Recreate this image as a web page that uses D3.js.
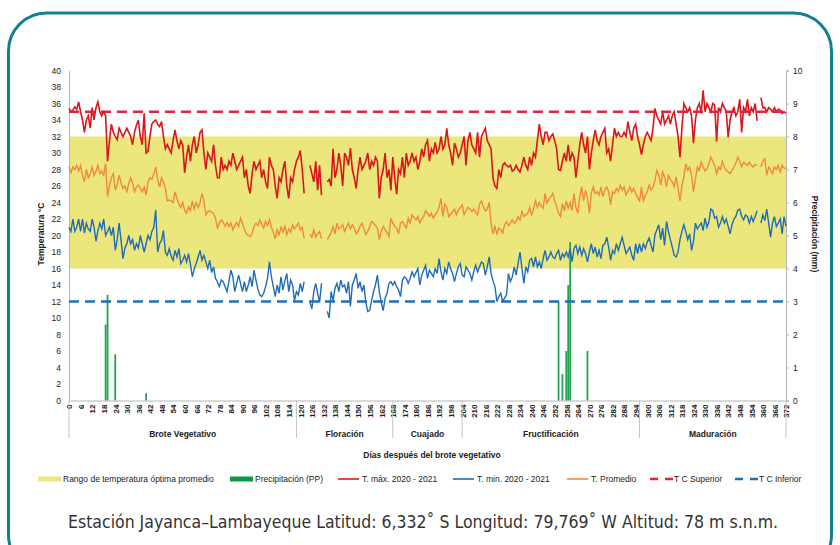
<!DOCTYPE html>
<html lang="es">
<head>
<meta charset="utf-8">
<script src="https://d3js.org/d3.v7.min.js"></script>
<style>
  body { margin: 0; background: #fff; }
  svg text { font-family: "Liberation Sans", Arial, sans-serif; fill: #222; }
</style>
</head>
<body>
<div id="grafico"></div>
<script>
// ---- datos ----
const dias = d3.range(0, 373);   // días después del brote vegetativo

const tMax = [
  35.4, 35.0, 35.2, 35.6, 35.3, 36.2, 35.0, 34.0, 32.5, 34.0,
  34.5, 33.0, 35.5, 34.0, 35.5, 36.2, 35.0, 34.5, 35.0, 34.5,
  29.0, 31.5, 33.5, 32.5, 32.0, 31.6, 33.0, 32.5, 32.0, 32.5,
  33.0, 32.5, 32.0, 31.0, 32.5, 33.4, 34.0, 32.0, 31.0, 34.8,
  30.0, 30.2, 32.0, 33.5, 33.8, 34.0, 33.5, 33.2, 33.8, 32.0,
  30.5, 31.0, 30.5, 30.0, 31.5, 32.8, 31.5, 30.5, 31.5, 31.0,
  27.6, 29.5, 31.0, 29.0, 31.0, 32.0, 30.0, 31.0, 32.5, 32.8,
  30.0, 28.0, 30.0, 29.5, 29.0, 31.0, 28.5, 27.0, 27.0, 29.5,
  28.0, 28.5, 28.0, 29.0, 28.5, 30.0, 29.0, 28.0, 28.5, 29.0,
  29.5, 27.0, 28.0, 26.0, 25.1, 27.5, 29.0, 28.0, 28.5, 29.0,
  27.0, 28.0, 26.5, 25.7, 29.5, 28.5, 28.0, 26.0, 24.5, 27.0,
  26.5, 28.0, 29.0, 26.0, 24.5, 27.0, 26.5, 28.0, 29.0, 29.5,
  30.3, 28.0, 25.1, null, null, 28.5, 27.5, 26.5, 29.0, 25.5,
  28.5, 24.9, null, null, 26.5, 26.8, 26.0, 30.5, 27.0, 28.0,
  30.0, 28.5, 26.0, 30.0, 29.5, 28.5, 30.6, 28.0, 27.0, 25.7,
  28.0, 29.5, 28.0, 28.5, 29.0, 30.0, 28.0, 29.0, 28.5, 29.5,
  29.0, 24.5, 27.0, 28.0, 30.0, 27.0, 28.0, 25.5, 29.5, 27.0,
  25.0, 28.0, 27.5, 29.5, 27.0, 30.0, 28.5, 29.0, 30.0, 29.0,
  29.5, 28.0, 29.0, 30.5, 29.5, 31.0, 31.5, 29.0, 30.5, 30.0,
  31.3, 30.0, 30.5, 32.0, 30.5, 31.0, 33.0, 31.0, 30.0, 28.5,
  31.2, 30.5, 29.5, 30.0, 31.0, 32.0, 28.5, 31.5, 32.5, 31.0,
  30.5, 30.0, 32.5, 29.5, 32.0, 32.5, 33.0, 31.5, 31.0, 30.5,
  26.9, 26.0, 25.7, 28.0, 27.0, 28.5, 28.8, 28.5, 28.3, 28.5,
  27.8, 28.0, 28.5, 28.0, 27.7, 28.5, 29.5, 28.5, 28.0, 29.5,
  28.5, 30.0, 29.5, 31.5, 33.5, 32.0, 31.0, 32.5, 32.5, 31.5,
  32.0, 32.3, 31.5, 30.5, 28.0, 27.9, 29.0, 30.0, 29.0, 31.0,
  29.0, 30.0, 29.5, 27.0, 29.0, 31.0, 32.5, 31.0, 30.0, 32.0,
  28.0, 30.0, 31.5, 32.8, 31.5, 31.0, 32.0, 32.5, 33.0, 30.0,
  30.5, 29.0, 31.0, 33.0, 32.0, 32.5, 32.0, 32.0, 32.5, 32.0,
  33.8, 32.5, 31.5, 33.0, 33.5, 32.0, 31.0, 29.8, 31.0, 32.0,
  32.5, 32.0, 31.5, 33.0, 35.4, 34.5, 34.0, 33.5, 35.0, 33.5,
  34.0, 34.5, 33.5, 34.5, 35.0, 33.5, 32.0, 29.5, 33.0, 36.0,
  35.5, 35.0, 35.5, 34.5, 31.2, 34.0, 35.5, 36.0, 34.8, 37.6,
  35.0, 36.0, 35.5, 35.0, 36.0, 35.8, 31.4, 35.5, 35.0, 36.0,
  35.5, 35.0, 31.9, 34.0, 35.0, 35.5, 34.5, 35.0, 36.5, 32.5,
  35.5, 35.0, 36.5, 34.5, 35.5, 35.0, 36.0, 33.9, null, 36.7,
  35.5, 35.5, 35.0, 35.5, 35.3, 35.0, 35.5, 35.0, 35.3, 35.2,
  34.8, 35.0, 34.8
];

const tMin = [
  21.0, 20.5, 22.0, 20.5, 21.0, 22.0, 20.5, 22.0, 20.3, 21.5,
  20.8, 20.5, 22.0, 21.0, 19.3, 20.6, 21.5, 20.8, 22.0, 20.0,
  20.5, 21.0, 20.0, 21.0, 18.2, 19.5, 21.5, 19.4, 17.2, 18.5,
  19.0, 20.0, 19.0, 19.5, 18.2, 19.0, 18.5, 20.0, 19.0, 18.0,
  19.0, 20.0, 19.5, 20.5, 21.0, 23.1, 18.0, 19.0, 19.4, 20.6,
  18.0, 17.6, 18.4, 17.5, 17.0, 18.2, 17.4, 18.4, 16.6, 17.0,
  17.6, 16.8, 17.8, 16.5, 15.0, 16.0, 16.6, 17.4, 18.2, 17.0,
  17.6, 16.8, 16.0, 17.0, 15.5, 16.2, 14.8, 14.4, 13.8, 14.6,
  14.4, 13.8, 13.2, 14.5, 15.8, 15.0, 13.2, 14.2, 15.2, 14.2,
  13.2, 14.4, 13.2, 14.0, 15.0, 13.8, 15.8, 14.6, 13.5, 12.8,
  12.6, 13.0, 13.8, 14.8, 16.8, 15.0, 13.8, 12.6, 14.0, 13.0,
  15.0, 13.4, 14.5, 15.4, 13.2, 14.6, 14.0, 12.1, 13.2, 12.8,
  14.2, 13.2, 14.4, null, null, 11.9, 11.1, 13.2, 14.2, 13.0,
  11.9, 14.2, null, null, 10.8, 10.0, 13.2, 12.1, 13.6, 14.2,
  13.2, 14.6, 13.8, 14.0, 13.0, 14.4, 11.4, 14.0, 14.6, 15.4,
  13.6, 14.4, 13.2, 14.0, 11.9, 10.8, 10.9, 12.1, 13.2, 14.0,
  15.2, 13.2, 11.9, 10.9, 12.4, 13.0, 14.2, 14.4, 14.0, 14.4,
  13.8, 13.4, 12.6, 14.6, 15.0, 14.8, 14.2, 14.8, 15.6, 15.0,
  15.5, 16.0, 14.0, 15.2, 15.8, 16.4, 14.8, 15.8, 15.4, 15.0,
  16.0, 15.4, 17.2, 15.6, 14.6, 16.0, 15.4, 16.8, 16.0, 15.4,
  14.4, 15.4, 16.2, 16.6, 15.2, 15.0, 16.2, 15.8, 15.4, 14.6,
  15.6, 16.4, 15.6, 16.2, 16.8, 16.6, 15.2, 16.2, 17.4, 15.4,
  14.5, 13.8, 12.0, 12.6, 13.0, 12.0, 12.4, 12.8, 15.4, 14.4,
  15.0, 16.2, 15.2, 16.6, 18.0, 16.0, 14.2, 16.2, 15.6, 17.0,
  17.2, 16.2, 17.4, 16.2, 16.8, 16.0, 17.2, 18.2, 17.0, 17.4,
  18.0, 17.4, 17.2, 17.8, 18.2, 17.0, 17.8, 17.4, 18.0, 17.4,
  18.4, 16.8, 18.4, 18.8, 17.8, 18.6, 17.6, 18.4, 17.8, 16.8,
  18.0, 19.0, 17.8, 18.6, 17.4, 18.2, 17.2, 18.8, 19.0, 19.8,
  18.6, 17.0, 18.2, 17.8, 19.0, 18.2, 19.0, 19.8, 18.8, 17.8,
  18.2, 18.6, 17.6, 17.0, 19.0, 17.8, 19.0, 18.0, 19.0, 18.4,
  19.2, 19.7, 18.8, 18.0, 20.1, 20.7, 21.3, 19.5, 20.9, 18.8,
  21.7, 20.5, 19.5, 18.6, 17.6, 17.4, 18.0, 19.5, 20.5, 21.3,
  20.5, 19.5, 20.2, 18.2, 19.3, 21.5, 20.8, 21.2, 21.5, 20.6,
  22.1, 21.0, 21.7, 23.2, 23.0, 22.1, 22.3, 21.0, 21.5, 22.3,
  21.5, 22.0, 21.1, 20.2, 21.3, 22.0, 22.3, 23.1, 23.2, 22.3,
  21.9, 22.5, 22.3, 21.5, 22.3, 21.7, 22.3, 23.0, null, 21.5,
  22.5, 21.8, 23.2, 21.5, 19.8, 21.5, 22.3, 21.1, 21.5, 22.0,
  20.2, 22.3, 21.1
];

const tProm = [
  28.3, 27.6, 28.3, 28.0, 28.5, 27.8, 28.5, 27.3, 26.5, 28.0,
  27.0, 27.5, 28.3, 27.3, 27.8, 28.5, 27.5, 27.8, 27.3, 28.7,
  24.7, 26.0, 27.0, 27.5, 25.5, 26.2, 27.3, 26.4, 25.7, 26.0,
  25.3, 26.3, 27.0, 26.3, 25.3, 25.9, 26.1, 25.7, 25.3, 25.9,
  24.9, 26.5, 27.0, 26.8, 27.5, 28.3, 26.8, 25.9, 27.0, 26.5,
  25.7, 24.2, 24.3, 24.2, 24.0, 25.3, 24.5, 23.8, 23.4, 24.0,
  23.0, 22.7, 23.5, 23.0, 24.2, 23.2, 24.0, 23.4, 24.0, 25.1,
  24.2, 22.5, 22.9, 23.0, 22.8, 22.7, 22.1, 20.9, 21.5, 21.9,
  21.6, 21.1, 21.6, 21.1, 21.5, 20.7, 21.2, 21.6, 21.1, 22.1,
  21.5, 20.8, 20.2, 20.0, 19.9, 20.2, 21.1, 21.5, 21.2, 21.9,
  21.4, 20.9, 21.7, 21.2, 21.9, 21.0, 20.4, 19.6, 20.7, 20.1,
  21.0, 20.4, 21.1, 20.1, 20.8, 20.4, 21.3, 20.8, 21.1, 21.5,
  20.7, 21.0, 19.6, null, null, 20.2, 19.8, 20.7, 19.8, 20.2,
  20.5, 19.6, null, null, 19.5, 19.9, 20.4, 21.1, 20.2, 21.5,
  20.8, 21.0, 21.3, 20.5, 21.0, 21.5, 20.8, 21.3, 20.9, 20.2,
  20.5, 21.1, 21.5, 20.8, 20.1, 20.5, 21.1, 21.7, 21.5, 21.2,
  20.9, 19.5, 20.5, 21.1, 20.7, 20.4, 19.9, 22.1, 21.5, 21.1,
  20.9, 20.2, 21.5, 21.7, 21.3, 20.9, 22.1, 21.5, 22.5, 22.2,
  21.9, 22.3, 21.5, 22.0, 22.3, 23.0, 22.7, 22.3, 22.7, 22.1,
  22.5, 22.9, 23.4, 24.5, 22.3, 23.8, 23.4, 22.3, 22.6, 22.9,
  23.2, 22.5, 23.1, 23.4, 23.7, 22.5, 23.0, 23.4, 23.2, 22.9,
  23.2, 22.8, 22.5, 23.8, 24.2, 23.5, 23.0, 23.2, 24.0, 21.5,
  20.2, 21.1, 20.2, 20.9, 20.7, 20.3, 21.3, 21.7, 21.2, 21.5,
  21.9, 21.5, 21.7, 22.3, 21.9, 22.9, 22.3, 22.5, 22.7, 23.4,
  22.5, 23.2, 24.2, 23.4, 24.0, 23.6, 23.3, 25.1, 23.9, 24.4,
  24.7, 25.1, 24.2, 23.5, 22.7, 22.3, 23.9, 23.0, 24.2, 23.3,
  24.0, 23.0, 25.1, 23.4, 22.7, 24.7, 25.9, 24.2, 25.5, 24.5,
  22.7, 25.1, 25.9, 25.1, 25.3, 24.9, 25.9, 24.7, 25.5, 25.9,
  25.3, 23.7, 25.3, 25.1, 25.7, 25.3, 26.1, 25.5, 25.9, 24.9,
  25.4, 25.9, 25.3, 25.7, 25.1, 24.6, 24.2, 25.9, 24.2, 24.8,
  25.3, 26.1, 25.5, 25.8, 26.7, 27.9, 27.3, 26.1, 27.7, 27.1,
  25.9, 27.3, 26.8, 26.5, 25.9, 27.1, 25.7, 24.2, 26.0, 27.1,
  28.7, 27.9, 28.3, 27.3, 25.3, 26.8, 28.3, 27.9, 28.9, 28.3,
  27.8, 28.1, 28.7, 29.5, 29.0, 28.5, 27.5, 28.3, 28.0, 29.0,
  28.3, 27.9, 27.7, 27.5, 27.9, 28.3, 28.8, 29.5, 29.0, 28.3,
  28.9, 28.7, 28.5, 28.9, 28.5, 28.3, 28.6, 28.5, null, 28.3,
  29.0, 29.3, 27.3, 28.3, 27.9, 27.5, 28.3, 28.0, 28.5, 27.7,
  28.5, 28.2, 28.1
];

// precipitación (mm), solo los días con lluvia
const diasLluvia = [19, 20, 24, 40, 254, 256, 258, 259, 260, 269];
const precipitacion = [2.3, 3.2, 1.4, 0.22, 3.0, 0.8, 1.5, 3.5, 4.8, 1.5];

const rangoOptimo = [16, 32];
const tcSuperior = 35;
const tcInferior = 12;

const etapas = ["Brote Vegetativo", "Floración", "Cuajado", "Fructificación", "Maduración"];
const limitesEtapas = [0, 118, 168, 204, 296, 372];
const ticksDias = d3.range(0, 373, 6);
const ticksTemp = d3.range(0, 41, 2);
const ticksPP = d3.range(0, 11, 1);

// ---- dibujo ----
const W = 840, H = 545;
const svg = d3.select("#grafico").append("svg").attr("width", W).attr("height", H);

// marco redondeado
svg.append("rect").attr("x", 8.5).attr("y", 13).attr("width", 823).attr("height", 560)
  .attr("rx", 38).attr("fill", "none").attr("stroke", "#14808f").attr("stroke-width", 3);

const x = d3.scaleLinear().domain([0, 372]).range([69, 786]);
const yT = d3.scaleLinear().domain([0, 40]).range([400.5, 70.5]);
const yP = d3.scaleLinear().domain([0, 10]).range([400.5, 70.5]);

// banda de temperatura óptima
svg.append("rect")
  .attr("x", x(0)).attr("width", x(372) - x(0))
  .attr("y", yT(rangoOptimo[1])).attr("height", yT(rangoOptimo[0]) - yT(rangoOptimo[1]))
  .attr("fill", "#ece77c");

// barras de precipitación
svg.selectAll(".pp").data(diasLluvia).join("rect")
  .attr("class", "pp")
  .attr("x", d => x(d) - 0.9).attr("width", 1.8)
  .attr("y", (d, i) => yP(precipitacion[i]))
  .attr("height", (d, i) => yP(0) - yP(precipitacion[i]))
  .attr("fill", "#22a350");

// ejes
const ejeIzq = svg.append("g").attr("transform", `translate(${x(0)},0)`)
  .call(d3.axisLeft(yT).tickValues(ticksTemp).tickSize(0).tickPadding(8));
ejeIzq.select(".domain").attr("stroke", "#b5b5b5");
ejeIzq.selectAll("text").style("font-size", "8.5px");

const ejeDer = svg.append("g").attr("transform", `translate(${x(372)},0)`)
  .call(d3.axisRight(yP).tickValues(ticksPP).tickSize(3).tickPadding(4));
ejeDer.select(".domain").attr("stroke", "#b5b5b5");
ejeDer.selectAll("line").attr("stroke", "#b5b5b5");
ejeDer.selectAll("text").style("font-size", "8.5px");

const ejeX = svg.append("g").attr("transform", `translate(0,${yT(0)})`)
  .call(d3.axisBottom(x).tickValues(ticksDias).tickSize(0));
ejeX.select(".domain").attr("stroke", "#b5b5b5");
ejeX.selectAll("text")
  .attr("transform", "rotate(-90)")
  .attr("x", -4).attr("y", 0).attr("dy", "0.35em")
  .style("text-anchor", "end")
  .style("font-size", "8px").style("font-weight", "bold");

// separadores y nombres de etapas
svg.selectAll(".sep").data(limitesEtapas).join("line")
  .attr("class", "sep")
  .attr("x1", d => x(d)).attr("x2", d => x(d))
  .attr("y1", yT(0)).attr("y2", 438)
  .attr("stroke", "#c4c4c4").attr("stroke-width", 1);

svg.selectAll(".etapa").data(etapas).join("text")
  .attr("class", "etapa")
  .attr("x", (d, i) => x((limitesEtapas[i] + limitesEtapas[i + 1]) / 2))
  .attr("y", 437)
  .attr("text-anchor", "middle")
  .style("font-size", "8.5px").style("font-weight", "bold")
  .text(d => d);

svg.append("text").attr("x", 432).attr("y", 458).attr("text-anchor", "middle")
  .style("font-size", "8.5px").style("font-weight", "bold")
  .text("Días después del brote vegetativo");

svg.append("text").attr("transform", "translate(44,234) rotate(-90)")
  .attr("text-anchor", "middle").style("font-size", "8.5px").style("font-weight", "bold")
  .text("Temperatura °C");

svg.append("text").attr("transform", "translate(812,234) rotate(90)")
  .attr("text-anchor", "middle").style("font-size", "8.5px").style("font-weight", "bold")
  .text("Precipitación (mm)");

// líneas de temperatura
const linea = serie => d3.line()
  .defined(d => serie[d] != null)
  .x(d => x(d)).y(d => yT(serie[d]));

svg.append("path").datum(dias).attr("d", linea(tMax))
  .attr("fill", "none").attr("stroke", "#d8171c").attr("stroke-width", 1.6);
svg.append("path").datum(dias).attr("d", linea(tMin))
  .attr("fill", "none").attr("stroke", "#1f6db8").attr("stroke-width", 1.4);
svg.append("path").datum(dias).attr("d", linea(tProm))
  .attr("fill", "none").attr("stroke", "#f08a3a").attr("stroke-width", 1.4);

// umbrales críticos
svg.append("line").attr("x1", x(0)).attr("x2", x(372))
  .attr("y1", yT(tcSuperior)).attr("y2", yT(tcSuperior))
  .attr("stroke", "#e8203a").attr("stroke-width", 2.5).attr("stroke-dasharray", "10,6");
svg.append("line").attr("x1", x(0)).attr("x2", x(372))
  .attr("y1", yT(tcInferior)).attr("y2", yT(tcInferior))
  .attr("stroke", "#1d6fbd").attr("stroke-width", 2.5).attr("stroke-dasharray", "10,6");

// leyenda
const leyenda = [
  { x: 38, txt: "Rango de temperatura óptima promedio", tipo: "caja", color: "#ece77c" },
  { x: 230, txt: "Precipitación (PP)", tipo: "caja", color: "#0f9a45" },
  { x: 338, txt: "T. máx. 2020 - 2021", tipo: "linea", color: "#d8171c" },
  { x: 453, txt: "T. min. 2020 - 2021", tipo: "linea", color: "#1f6db8" },
  { x: 567, txt: "T. Promedio", tipo: "linea", color: "#f08a3a" },
  { x: 650, txt: "T C Superior", tipo: "guion", color: "#e8203a" },
  { x: 735, txt: "T C Inferior", tipo: "guion", color: "#1d6fbd" }
];
const yLey = 479;
const itemLey = svg.selectAll(".ley").data(leyenda).join("g").attr("class", "ley");
itemLey.filter(d => d.tipo === "caja").append("rect")
  .attr("x", d => d.x).attr("y", yLey - 2.5).attr("width", 23).attr("height", 5)
  .attr("fill", d => d.color);
itemLey.filter(d => d.tipo === "linea").append("line")
  .attr("x1", d => d.x).attr("x2", d => d.x + 21).attr("y1", yLey).attr("y2", yLey)
  .attr("stroke", d => d.color).attr("stroke-width", 1.6);
itemLey.filter(d => d.tipo === "guion").append("line")
  .attr("x1", d => d.x).attr("x2", d => d.x + 23).attr("y1", yLey).attr("y2", yLey)
  .attr("stroke", d => d.color).attr("stroke-width", 2.5).attr("stroke-dasharray", "8,7");
itemLey.append("text")
  .attr("x", d => d.x + (d.tipo === "caja" ? 25 : 24)).attr("y", yLey).attr("dy", "0.35em")
  .style("font-size", "8.5px").text(d => d.txt);

// pie
svg.append("text").attr("x", 423).attr("y", 528).attr("text-anchor", "middle")
  .attr("textLength", 710).attr("lengthAdjust", "spacingAndGlyphs")
  .style("font-family", "'Liberation Sans Narrow', 'DejaVu Sans Condensed', Roboto, sans-serif")
  .style("font-size", "18.5px").style("fill", "#333")
  .text("Estación Jayanca–Lambayeque Latitud: 6,332˚ S Longitud: 79,769˚ W Altitud: 78 m s.n.m.");
</script>
</body>
</html>
